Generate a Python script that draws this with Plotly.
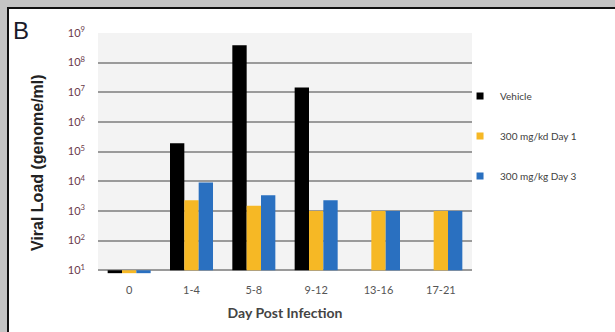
import plotly.graph_objects as go

categories = ["0", "1-4", "5-8", "9-12", "13-16", "17-21"]
vehicle = [8, 1.9e5, 3.8e8, 1.45e7, None, None]
dose_day1 = [8, 2.3e3, 1.5e3, 1.0e3, 1.0e3, 1.0e3]
dose_day3 = [8, 9.0e3, 3.4e3, 2.3e3, 1.0e3, 1.0e3]
series_names = ["Vehicle", "300 mg/kd Day 1", "300 mg/kg Day 3"]
series_colors = ["#000000", "#f6b825", "#2a70c0"]
ytick_vals = [10 ** k for k in range(1, 10)]
ytick_text = ["10<sup>%d</sup>" % k for k in range(1, 10)]

BASE = 10
fig = go.Figure()
for name, vals, col in zip(series_names, [vehicle, dose_day1, dose_day3], series_colors):
    fig.add_trace(go.Bar(
        x=categories,
        y=[None if v is None else v - BASE for v in vals],
        base=BASE,
        name=name,
        marker=dict(color=col, line=dict(width=0)),
        showlegend=False,
    ))
for i, (name, col) in enumerate(zip(series_names, series_colors)):
    fig.add_trace(go.Scatter(
        x=[None], y=[None], mode="markers", name=name,
        marker=dict(symbol="square", size=7, color=col),
        legendgroup="g%d" % i,
    ))

r0, r1 = 0.875, 9.03
f_bottom = (1 - r0) / (r1 - r0)
f_top = (9 - r0) / (r1 - r0)

fig.update_layout(
    width=615, height=332,
    margin=dict(l=98, r=143, t=32, b=58),
    paper_bgcolor="#c4c4c4",
    plot_bgcolor="rgba(0,0,0,0)",
    barmode="group",
    bargap=0.31,
    bargroupgap=0,
    font=dict(family="Lato, sans-serif", size=10, color="#555555"),
    xaxis=dict(
        type="category", showgrid=False, zeroline=False, showline=False,
        ticks="", ticklabelstandoff=8, automargin=False,
        tickfont=dict(family="Lato", size=11, color="#555555"),
        title=dict(text="<b>Day Post Infection</b>", standoff=13,
                   font=dict(family="Lato", size=14, color="#444444")),
    ),
    yaxis=dict(
        type="log", range=[r0, r1], tickvals=ytick_vals, ticktext=ytick_text,
        showgrid=True, gridcolor="#9a9a9a", gridwidth=2, zeroline=False,
        showline=False, ticks="", ticklabelstandoff=12, automargin=False,
        tickfont=dict(family="Lato", size=11, color="#6b3a4a"),
    ),
    legend=dict(
        x=0.968, y=0.795, xanchor="left", yanchor="top",
        bgcolor="rgba(0,0,0,0)", tracegroupgap=21, traceorder="grouped",
        font=dict(family="Lato", size=10, color="#404040"),
    ),
    shapes=[
        dict(type="rect", xref="paper", yref="paper",
             x0=(8 - 98) / 374, x1=2.0, y0=-0.5, y1=(274 - 8) / 242,
             fillcolor="#ffffff", line=dict(color="#111111", width=2), layer="below"),
        dict(type="rect", xref="paper", yref="paper",
             x0=0, x1=1, y0=f_bottom, y1=f_top,
             fillcolor="#f3f3f3", line=dict(width=0), layer="below"),
    ],
    annotations=[
        dict(text="B", xref="paper", yref="paper", x=(11 - 98) / 374, y=(274 - 31) / 242,
             xanchor="left", yanchor="middle", showarrow=False,
             font=dict(family="Liberation Sans", size=24, color="#1a1a2a")),
        dict(text="<b>Viral Load (genome/ml)</b>", xref="paper", yref="paper",
             x=(37 - 98) / 374, y=(274 - 162) / 242, textangle=-90,
             xanchor="center", yanchor="middle", showarrow=False,
             font=dict(family="Liberation Sans", size=16, color="#222222")),
    ],
)

fig.write_html("out.html", config={"displayModeBar": False},
               post_script="document.body.style.margin='0';")
